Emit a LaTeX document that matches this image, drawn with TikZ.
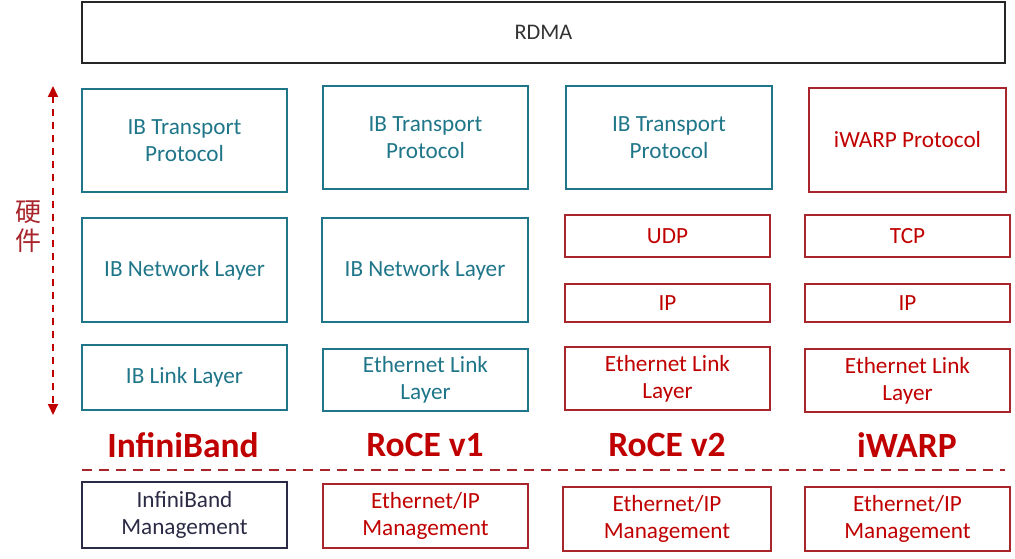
\documentclass[tikz,border=0pt]{standalone}
\usepackage{fontspec}
\setmainfont{Carlito}
\newfontfamily\cjk{Noto Sans CJK SC}
\usetikzlibrary{arrows.meta}
\definecolor{teal1}{HTML}{1F7689}
\definecolor{red1}{HTML}{C00000}
\definecolor{redb}{HTML}{A8262B}
\definecolor{navy1}{HTML}{2B2B45}
\definecolor{gray1}{HTML}{333333}
\tikzset{
  box/.style={draw, line width=2pt, inner sep=0pt, align=center, font=\fontsize{23.2}{27}\selectfont},
  tbox/.style={box, draw=teal1, text=teal1},
  rbox/.style={box, draw=redb, text=red1},
  nbox/.style={box, draw=navy1, text=navy1},
  title/.style={text=red1, font=\fontsize{35.5}{38}\selectfont\bfseries, inner sep=0pt},
  cjkt/.style={text=redb, font=\cjk\fontsize{26}{28}\selectfont, inner sep=0pt},
}
\begin{document}
\begin{tikzpicture}[x=1pt,y=-1pt]
\useasboundingbox (0,0) rectangle (1015,559);
\node[box, draw=black!85, text=gray1, minimum width=923pt, minimum height=61pt, font=\fontsize{22.3}{26}\selectfont] (rdma) at (543.5,32.5) {RDMA};
% column 1
\node[tbox, minimum width=205pt, minimum height=103pt] (c1t) at (184.5,140.5) {IB Transport\\Protocol};
\node[tbox, minimum width=205pt, minimum height=104pt] (c1n) at (184.5,270) {IB Network Layer};
\node[tbox, minimum width=205pt, minimum height=65pt] (c1l) at (184.5,377.5) {IB Link Layer};
% column 2
\node[tbox, minimum width=205pt, minimum height=103pt] (c2t) at (425.5,137.5) {IB Transport\\Protocol};
\node[tbox, minimum width=206pt, minimum height=104pt] (c2n) at (425,270) {IB Network Layer};
\node[tbox, minimum width=205pt, minimum height=62pt] (c2l) at (425.5,380) {Ethernet Link\\Layer};
% column 3
\node[tbox, minimum width=206pt, minimum height=103pt] (c3t) at (669,137.5) {IB Transport\\Protocol};
\node[rbox, minimum width=205pt, minimum height=42pt] (c3u) at (667.5,236) {UDP};
\node[rbox, minimum width=205pt, minimum height=38pt] (c3i) at (667.5,303) {IP};
\node[rbox, minimum width=205pt, minimum height=63pt] (c3l) at (667.5,378.5) {Ethernet Link\\Layer};
% column 4
\node[rbox, minimum width=197pt, minimum height=104pt] (c4t) at (907.5,140) {iWARP Protocol};
\node[rbox, minimum width=205pt, minimum height=42pt] (c4u) at (907.5,236) {TCP};
\node[rbox, minimum width=205pt, minimum height=38pt] (c4i) at (907.5,303) {IP};
\node[rbox, minimum width=205pt, minimum height=63pt] (c4l) at (907.5,380.5) {Ethernet Link\\Layer};
% titles
\node[title] (t1) at (183,445) {InfiniBand};
\node[title] (t2) at (425,445) {RoCE v1};
\node[title] (t3) at (667,445) {RoCE v2};
\node[title] (t4) at (907,445) {iWARP};
% dashed separator
\coordinate (dl) at (82,470);
\coordinate (dr) at (1005,470);
\draw[redb, line width=2pt, dash pattern=on 10pt off 7pt] (dl) -- (dr);
% bottom
\node[nbox, minimum width=205pt, minimum height=66pt] (b1) at (184.5,515) {InfiniBand\\Management};
\node[rbox, minimum width=205pt, minimum height=64pt] (b2) at (425.5,516) {Ethernet/IP\\Management};
\node[rbox, minimum width=208pt, minimum height=64pt] (b3) at (667,519) {Ethernet/IP\\Management};
\node[rbox, minimum width=205pt, minimum height=64pt] (b4) at (907.5,519) {Ethernet/IP\\Management};
% hardware arrow
\coordinate (at) at (53,86);
\coordinate (ab) at (53,415);
\draw[red1, line width=2pt, dash pattern=on 7pt off 6pt, {Triangle[length=11pt,width=10pt]}-{Triangle[length=11pt,width=10pt]}] (at) -- (ab);
\node[cjkt] (h1) at (28,212) {硬};
\node[cjkt] (h2) at (28,241) {件};
\end{tikzpicture}
\end{document}
